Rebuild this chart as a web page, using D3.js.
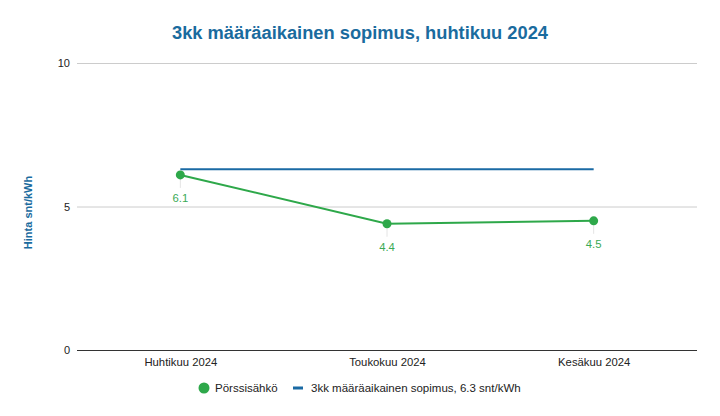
<!DOCTYPE html>
<html><head><meta charset="utf-8">
<script src="https://cdn.jsdelivr.net/npm/d3@7"></script>
<style>body{margin:0;background:#fff}svg{display:block;font-family:"Liberation Sans",Arial,sans-serif}</style>
</head><body><svg id="c" width="720" height="416"></svg>
<script>
const categories = ["Huhtikuu 2024", "Toukokuu 2024", "Kesäkuu 2024"];
const spotValues = [6.1, 4.4, 4.5];
const fixedValues = [6.3, 6.3, 6.3];
const yTicks = [0, 5, 10];
const seriesNames = ["Pörssisähkö", "3kk määräaikainen sopimus, 6.3 snt/kWh"];
const title = "3kk määräaikainen sopimus, huhtikuu 2024";
const yTitle = "Hinta snt/kWh";

const svg = d3.select("#c");
const m = {l:77, r:697, t:63, b:350};
const x = d3.scalePoint().domain(categories).range([m.l, m.r]).padding(0.5);
const y = d3.scaleLinear().domain([0, 10]).range([m.b, m.t]);
const green = "#2ea84a", blue = "#1a6aa4";

svg.append("text").attr("x", 360).attr("y", 39).attr("text-anchor", "middle")
  .attr("font-size", 18.3).attr("font-weight", "bold").attr("fill", "#1a6b9e").text(title);

svg.append("text").attr("transform", `translate(32,${(m.t+m.b)/2+6}) rotate(-90)`)
  .attr("text-anchor", "middle").attr("font-size", 11).attr("font-weight", "bold")
  .attr("fill", "#1a6b9e").text(yTitle);

const ya = svg.append("g").attr("transform", `translate(${m.l},0)`)
  .call(d3.axisLeft(y).tickValues(yTicks).tickSize(-(m.r-m.l)).tickPadding(7));
ya.select(".domain").remove();
ya.selectAll(".tick line").attr("stroke", "#cccccc");
ya.selectAll(".tick").filter(d => d === 0).select("line").attr("stroke", "#333").attr("stroke-width", 1);
ya.selectAll(".tick text").attr("font-size", 11).attr("fill", "#222").attr("font-family", "Liberation Sans, Arial");

const xa = svg.append("g").attr("transform", `translate(0,${m.b})`)
  .call(d3.axisBottom(x).tickSize(0).tickPadding(8));
xa.select(".domain").remove();
xa.selectAll(".tick text").attr("font-size", 11.3).attr("fill", "#222").attr("font-family", "Liberation Sans, Arial");

svg.append("path").datum(fixedValues).attr("fill", "none").attr("stroke", blue).attr("stroke-width", 2)
  .attr("d", d3.line().x((d,i)=>x(categories[i])).y(d=>y(d)));

svg.selectAll(".lead").data(spotValues).join("line")
  .attr("x1", (d,i)=>x(categories[i])).attr("x2", (d,i)=>x(categories[i]))
  .attr("y1", d=>y(d)+4).attr("y2", d=>y(d)+13).attr("stroke", "#e4e4e4").attr("stroke-width", 1);

svg.append("path").datum(spotValues).attr("fill", "none").attr("stroke", green).attr("stroke-width", 2)
  .attr("d", d3.line().x((d,i)=>x(categories[i])).y(d=>y(d)));
svg.selectAll(".pt").data(spotValues).join("circle")
  .attr("cx", (d,i)=>x(categories[i])).attr("cy", d=>y(d)).attr("r", 4.5).attr("fill", green);
svg.selectAll(".lbl").data(spotValues).join("text")
  .attr("x", (d,i)=>x(categories[i])).attr("y", d=>y(d)+27).attr("text-anchor", "middle")
  .attr("font-size", 11.3).attr("fill", "#3aaa55").text(d=>d.toFixed(1));

const lg = svg.append("g");
lg.append("circle").attr("cx", 204).attr("cy", 388).attr("r", 5.5).attr("fill", green);
lg.append("text").attr("x", 215).attr("y", 392).attr("font-size", 11.5).attr("fill", "#222").text(seriesNames[0]);
lg.append("rect").attr("x", 293).attr("y", 386.5).attr("width", 10).attr("height", 3).attr("fill", blue);
lg.append("text").attr("x", 311).attr("y", 392).attr("font-size", 11.5).attr("fill", "#222").text(seriesNames[1]);
</script></body></html>
